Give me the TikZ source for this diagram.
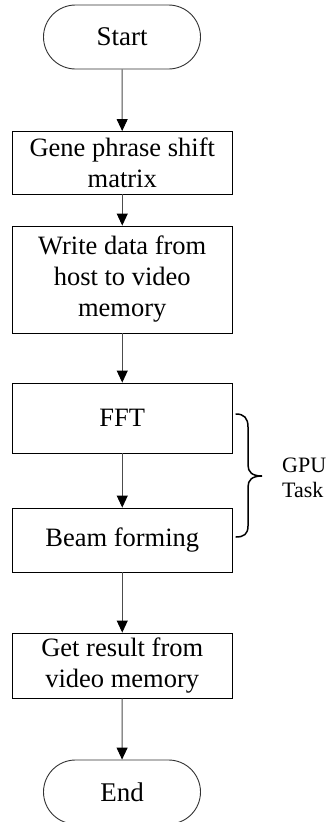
\documentclass[tikz,border=0pt]{standalone}
\usepackage{fontspec}
\setmainfont{Liberation Serif}
\usetikzlibrary{arrows.meta}

\tikzset{
  flowbox/.style={draw=black, line width=0.9pt, rectangle, inner sep=0pt,
    minimum width=219.5pt, align=center,
    font=\fontsize{26.5}{31}\selectfont},
  terminal/.style={draw=black!80, line width=0.9pt, rectangle, rounded corners=32pt,
    inner sep=0pt, minimum width=157pt, minimum height=64pt,
    font=\fontsize{27}{31}\selectfont},
  flowarrow/.style={draw=black!70, line width=0.9pt,
    -{Triangle[length=12pt,width=11pt,color=black,fill=black]}},
  bracepath/.style={draw=black, line width=1.5pt, line cap=round},
}

\begin{document}
\begin{tikzpicture}[x=1pt, y=-1pt]
  \useasboundingbox (0,0) rectangle (330,822);
  \clip (0,0) rectangle (330,822);

  % flow steps
  \node[terminal] (start) at (122,37) {Start};
  \node[flowbox, minimum height=62.5pt] (gene) at (122.25,162.75)
    {Gene phrase shift\\matrix};
  \node[flowbox, minimum height=107pt] (write) at (122.25,279.5)
    {Write data from\\host to video\\memory};
  \node[flowbox, minimum height=70pt] (fft) at (122.25,418) {FFT};
  \node[flowbox, minimum height=64pt] (beam) at (122.25,540) {Beam forming};
  \node[flowbox, minimum height=65pt] (get) at (122.25,665.5)
    {Get result from\\video memory};
  \node[terminal] (end) at (122,792) {End};

  % connectors
  \draw[flowarrow] (start) -- (gene);
  \draw[flowarrow] (gene) -- (write);
  \draw[flowarrow] (write) -- (fft);
  \draw[flowarrow] (fft) -- (beam);
  \draw[flowarrow] (beam) -- (get);
  \draw[flowarrow] (get) -- (end);

  % brace grouping the GPU steps
  \coordinate (bracetop) at (236,414);
  \coordinate (bracetip) at (262,476);
  \coordinate (bracebot) at (236,537);
  \draw[bracepath] (bracetop)
    .. controls (244,414) and (248,418) .. (248,427)
    -- (248,465)
    .. controls (248,472) and (252,476) .. (bracetip)
    .. controls (252,476) and (248,480) .. (248,487)
    -- (248,526)
    .. controls (248,534) and (244,537) .. (bracebot);

  \node[anchor=west, align=left, inner sep=0pt,
    font=\fontsize{22}{25}\selectfont] (gpu) at (282,478) {GPU\\Task};
\end{tikzpicture}
\end{document}
